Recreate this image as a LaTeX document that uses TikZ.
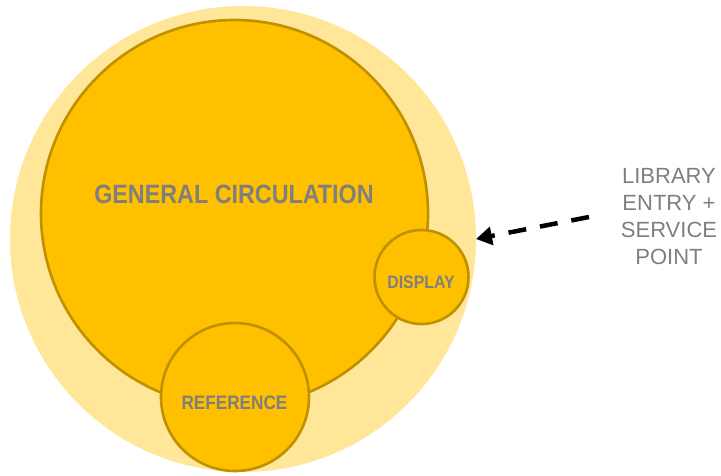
\documentclass[tikz,border=0pt]{standalone}
\usepackage{fontspec}
\usepackage{graphicx}
\setmainfont{Liberation Sans}
\usetikzlibrary{arrows.meta}
\definecolor{outerY}{HTML}{FFE699}
\definecolor{mainY}{HTML}{FFC000}
\definecolor{edgeY}{HTML}{BF9000}
\definecolor{txtG}{HTML}{7F7F7F}
\tikzset{
  zone/.style={circle, fill=mainY, draw=edgeY, line width=2.6pt, inner sep=0pt},
  zlabel/.style={text=txtG, font=\bfseries},
  side/.style={text=txtG, align=center, font=\fontsize{22}{27}\selectfont},
}
\begin{document}
\begin{tikzpicture}[x=1pt,y=-1pt]
\useasboundingbox (0,0) rectangle (721,475);
\node[circle, fill=outerY, minimum size=466pt, inner sep=0pt] (outer) at (243,239) {};
\node[zone, minimum size=387pt] (gen) at (234.5,213.5) {};
\node[zone, minimum size=94pt] (disp) at (421.5,277) {};
\node[zone, minimum size=148pt] (ref) at (235,397) {};
\node[zlabel, font=\bfseries\fontsize{26.5}{26.5}\selectfont] (genl) at (234,194) {\scalebox{0.88}[1]{GENERAL CIRCULATION}};
\node[zlabel, font=\bfseries\fontsize{18}{18}\selectfont] (displ) at (421,282) {\scalebox{0.88}[1]{DISPLAY}};
\node[zlabel, font=\bfseries\fontsize{19.5}{19.5}\selectfont] (refl) at (234.5,403) {\scalebox{0.88}[1]{REFERENCE}};
\node[side] (lib) at (669,217) {LIBRARY\\ENTRY +\\SERVICE\\POINT};
\coordinate (astart) at (589,217);
\coordinate (aend) at (476,239);
\draw[line width=4.5pt, dash pattern=on 18pt off 14pt, -{Triangle[length=16pt,width=18pt]}] (astart) -- (aend);
\end{tikzpicture}
\end{document}
